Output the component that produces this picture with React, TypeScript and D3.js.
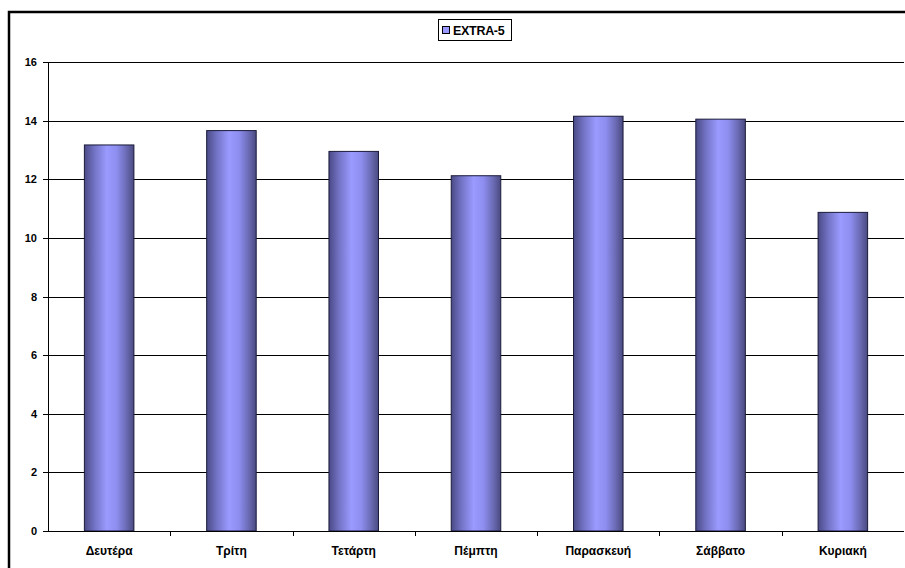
import React from "react";
import * as d3 from "d3";

const categories = ["Δευτέρα", "Τρίτη", "Τετάρτη", "Πέμπτη", "Παρασκευή", "Σάββατο", "Κυριακή"];
const values = [13.17, 13.66, 12.95, 12.12, 14.15, 14.05, 10.87];
const yTicks = [0, 2, 4, 6, 8, 10, 12, 14, 16];
const seriesName = "EXTRA-5";

export default function App() {
  const W = 905, H = 568;
  const left = 48, right = 904, top = 62, bottom = 531;
  const x = d3.scaleBand().domain(categories).range([left, right]).paddingInner(0.595).paddingOuter(0.2975);
  const xb = d3.scaleBand().domain(categories).range([left, right]);
  const y = d3.scaleLinear().domain([0, 16]).range([bottom, top]);
  const font = "Arial, 'Liberation Sans', sans-serif";
  return (
    <svg width={W} height={H} style={{ position: "absolute", left: 0, top: 0, background: "#fff" }} fontFamily={font}>
      <defs>
        <linearGradient id="barGrad" x1="0" x2="1" y1="0" y2="0">
          <stop offset="0" stopColor="#4a4a86" />
          <stop offset="0.2" stopColor="#7272c4" />
          <stop offset="0.45" stopColor="#9a9aff" />
          <stop offset="0.65" stopColor="#8e8ef0" />
          <stop offset="0.85" stopColor="#6a6ab4" />
          <stop offset="1" stopColor="#4a4a80" />
        </linearGradient>
      </defs>
      <rect x={0} y={0} width={W} height={H} fill="#fff" />
      <rect x={9} y={12} width={1000} height={1000} fill="none" stroke="#000" strokeWidth={2.5} />
      {yTicks.map((t) => (
        <g key={t}>
          {t > 0 && <line x1={left} x2={right} y1={Math.round(y(t)) + 0.5} y2={Math.round(y(t)) + 0.5} stroke="#000" strokeWidth={1} />}
          <line x1={left - 5} x2={left} y1={Math.round(y(t)) + 0.5} y2={Math.round(y(t)) + 0.5} stroke="#000" />
          <text x={37} y={y(t) + 4} textAnchor="end" fontSize={11} fontWeight="bold">{t}</text>
        </g>
      ))}
      {categories.map((c, i) => (
        <rect key={c} x={x(c)} y={y(values[i])} width={x.bandwidth()} height={bottom - y(values[i])}
          fill="url(#barGrad)" stroke="#1a1a3a" strokeWidth={1} />
      ))}
      <line x1={left + 0.5} x2={left + 0.5} y1={top} y2={bottom} stroke="#000" />
      <line x1={left} x2={right} y1={bottom + 0.5} y2={bottom + 0.5} stroke="#000" />
      {categories.map((c, i) => (
        <g key={"t" + c}>
          {i > 0 && <line x1={Math.round(xb(c)!) + 0.5} x2={Math.round(xb(c)!) + 0.5} y1={bottom} y2={bottom + 5} stroke="#000" />}
          <text x={xb(c)! + xb.bandwidth() / 2} y={555} textAnchor="middle" fontSize={12} fontWeight="bold">{c}</text>
        </g>
      ))}
      <g>
        <rect x={438.5} y={19.5} width={73} height={21} fill="#fff" stroke="#000" />
        <rect x={442.5} y={26.5} width={7} height={7} fill="#9999ff" stroke="#000" />
        <text x={453} y={35} fontSize={12.5} fontWeight="bold" letterSpacing={-0.3}>{seriesName}</text>
      </g>
    </svg>
  );
}
